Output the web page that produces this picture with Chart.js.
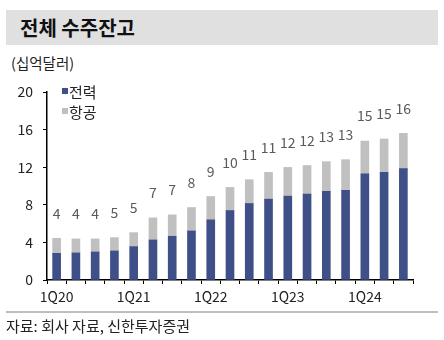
<!DOCTYPE html>
<html>
<head>
<meta charset="utf-8">
<script src="https://cdn.jsdelivr.net/npm/chart.js@4/dist/chart.umd.min.js"></script>
<style>
  html, body { margin: 0; padding: 0; background: #fff; }
  #wrap { position: relative; width: 444px; height: 340px; overflow: hidden; font-family: "Noto Sans CJK KR", "Noto Sans", sans-serif; }
  #title { position: absolute; left: 6px; top: 10px; width: 432px; height: 35px; background: #e0e0e0; }
  #title span { position: absolute; left: 14px; top: 50%; transform: translateY(-50%); font-size: 20px; font-weight: bold; color: #111; line-height: 1; }
  #unit { position: absolute; left: 11px; top: 56px; font-size: 14.5px; color: #222; line-height: 1; }
  #rule { position: absolute; left: 6px; top: 311px; width: 432px; height: 2px; background: #bdbdbd; }
  #source { position: absolute; left: 6px; top: 318px; font-size: 15px; color: #222; line-height: 1; }
  #chart { position: absolute; left: 0; top: 0; }
</style>
</head>
<body>
<div id="wrap">
  <div id="title"><span>전체 수주잔고</span></div>
  <div id="unit">(십억달러)</div>
  <canvas id="chart" width="444" height="340"></canvas>
  <div id="rule"></div>
  <div id="source">자료: 회사 자료, 신한투자증권</div>
</div>
<script>
// Quarterly order backlog, USD bn
const quarters = ['1Q20','2Q20','3Q20','4Q20','1Q21','2Q21','3Q21','4Q21','1Q22','2Q22','3Q22','4Q22','1Q23','2Q23','3Q23','4Q23','1Q24','2Q24','3Q24'];
const power = [2.84, 2.88, 2.98, 3.09, 3.55, 4.26, 4.65, 5.22, 6.40, 7.39, 8.14, 8.60, 8.92, 9.13, 9.42, 9.53, 11.30, 11.45, 11.84];
const aero  = [1.60, 1.49, 1.39, 1.42, 1.49, 2.35, 2.28, 2.49, 2.48, 2.46, 2.53, 2.85, 3.06, 3.05, 3.17, 3.27, 3.48, 3.55, 3.76];
const yTicks = [0, 4, 8, 12, 16, 20];
const seriesNames = ['전력', '항공'];

const NAVY = '#3f5089';
const GREY = '#c0c0c0';
const FONT = '"Noto Sans CJK KR", "Noto Sans", sans-serif';

// total above each stacked column, plus the small legend
const totalsAndLegend = {
  id: 'totalsAndLegend',
  afterDatasetsDraw(chart) {
    const ctx = chart.ctx;
    const y = chart.scales.y;
    const meta = chart.getDatasetMeta(0);
    ctx.save();
    ctx.font = '14px ' + FONT;
    ctx.fillStyle = '#5a5a5a';
    ctx.textAlign = 'center';
    ctx.textBaseline = 'middle';
    quarters.forEach((q, i) => {
      const total = power[i] + aero[i];
      const x = meta.data[i].x;
      ctx.fillText(String(Math.round(total)), x, y.getPixelForValue(total) - 25);
    });
    // legend
    ctx.textAlign = 'left';
    ctx.font = '15px ' + FONT;
    chart.data.datasets.forEach((ds, k) => {
      const ly = 91 + k * 20;
      ctx.fillStyle = ds.backgroundColor;
      ctx.fillRect(62, ly - 3, 6, 6);
      ctx.fillStyle = '#222';
      ctx.fillText(ds.label, 69, ly + 1);
    });
    ctx.restore();
  }
};

new Chart(document.getElementById('chart'), {
  type: 'bar',
  data: {
    labels: quarters,
    datasets: [
      { label: seriesNames[0], data: power, backgroundColor: NAVY, barThickness: 8 },
      { label: seriesNames[1], data: aero, backgroundColor: GREY, barThickness: 8 }
    ]
  },
  options: {
    responsive: false,
    animation: false,
    layout: { padding: { left: 0, right: 31, top: 92, bottom: 30 } },
    plugins: { legend: { display: false }, tooltip: { enabled: false } },
    scales: {
      x: {
        stacked: true,
        afterFit(s) { s.height = 30; },
        grid: { drawOnChartArea: false, drawTicks: true, tickLength: 4, tickColor: '#000', offset: true },
        border: { color: '#000', width: 1.5 },
        ticks: {
          autoSkip: false, maxRotation: 0, padding: 4,
          color: '#222', font: { size: 14, family: FONT },
          callback(v, i) { return i % 4 === 0 ? quarters[i] : ''; }
        }
      },
      y: {
        stacked: true,
        min: 0, max: 20,
        afterFit(s) { s.width = 47; },
        afterBuildTicks(s) { s.ticks = yTicks.map(v => ({ value: v })); },
        grid: { drawOnChartArea: false, drawTicks: true, tickLength: 4, tickColor: '#000' },
        border: { color: '#000', width: 1.5 },
        ticks: { padding: 10, color: '#222', font: { size: 14, family: FONT } }
      }
    }
  },
  plugins: [totalsAndLegend]
});
</script>
</body>
</html>
